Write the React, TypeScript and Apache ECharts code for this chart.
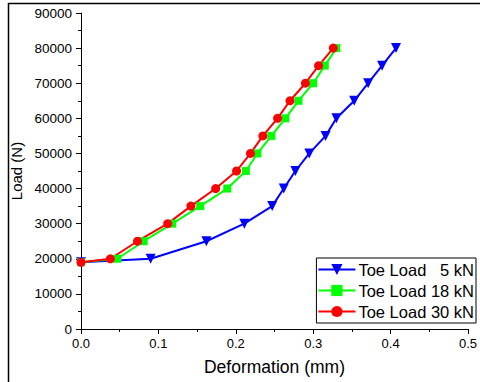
import React, { useEffect, useRef } from "react";
import * as echarts from "echarts";

const loads = [19000, 20000, 25000, 30000, 35000, 40000, 45000, 50000, 55000, 60000, 65000, 70000, 75000, 80000];
const def5kN = [0, 0.09, 0.162, 0.211, 0.247, 0.262, 0.277, 0.295, 0.316, 0.330, 0.353, 0.371, 0.389, 0.407];
const def18kN = [0, 0.047, 0.081, 0.118, 0.154, 0.189, 0.213, 0.228, 0.246, 0.264, 0.281, 0.300, 0.315, 0.330];
const def30kN = [0, 0.038, 0.073, 0.112, 0.142, 0.174, 0.201, 0.219, 0.235, 0.254, 0.270, 0.290, 0.307, 0.326];
const seriesNames = ["Toe Load\u2007 5 kN", "Toe Load 18 kN", "Toe Load 30 kN"];

const FONT = "Liberation Sans, Arial, sans-serif";

export default function App() {
  const ref = useRef<HTMLDivElement>(null);
  useEffect(() => {
    if (!ref.current) return;
    const chart = echarts.init(ref.current, null, { renderer: "svg" });
    const mk = (xs: number[]) => xs.map((x, i) => [x, loads[i]]);
    const lineSeries = (name: string, xs: number[], color: string, symbol: string, size: number, rotate = 0) => ({
      name,
      type: "line",
      data: mk(xs),
      symbol,
      symbolSize: size,
      symbolRotate: rotate,
      showAllSymbol: true,
      lineStyle: { color, width: 2 },
      itemStyle: { color },
      z: 3,
    });
    chart.setOption({
      animation: false,
      textStyle: { fontFamily: FONT },
      grid: { left: 81, top: 13, right: 6, bottom: 53 },
      graphic: [
        {
          type: "rect",
          shape: { x: 8.5, y: 3.5, width: 700, height: 700 },
          style: { fill: "none", stroke: "#000", lineWidth: 1.5 },
          silent: true,
        },
      ],
      legend: {
        orient: "vertical",
        right: 4,
        top: 258,
        itemWidth: 37,
        itemHeight: 14,
        itemGap: 4,
        padding: [3, 2, 3, 1],
        borderColor: "#000",
        borderWidth: 1,
        backgroundColor: "#fff",
        textStyle: { fontSize: 16.5, fontFamily: FONT, color: "#000", lineHeight: 16, padding: [0, 0, 0, -2] },
        data: seriesNames,
      },
      xAxis: {
        type: "value",
        min: 0,
        max: 0.5,
        interval: 0.1,
        name: "Deformation (mm)",
        nameLocation: "middle",
        nameGap: 29,
        nameTextStyle: { fontSize: 17.5, color: "#000", fontFamily: FONT },
        axisLine: { show: true, onZero: false, lineStyle: { color: "#000", width: 1 } },
        axisTick: { show: true, inside: false, length: 5, lineStyle: { color: "#000" } },
        minorTick: { show: true, splitNumber: 2, length: 3, lineStyle: { color: "#000" } },
        splitLine: { show: false },
        axisLabel: { fontSize: 13, color: "#000", margin: 8, formatter: (v: number) => v.toFixed(1), fontFamily: FONT },
      },
      yAxis: {
        type: "value",
        min: 0,
        max: 90000,
        interval: 10000,
        name: "Load (N)",
        nameLocation: "middle",
        nameGap: 48,
        nameTextStyle: { fontSize: 15, color: "#000", fontFamily: FONT },
        axisLine: { show: true, onZero: false, lineStyle: { color: "#000", width: 1 } },
        axisTick: { show: true, inside: false, length: 5, lineStyle: { color: "#000" } },
        minorTick: { show: true, splitNumber: 2, length: 3, lineStyle: { color: "#000" } },
        splitLine: { show: false },
        axisLabel: { fontSize: 13.5, color: "#000", margin: 9, fontFamily: FONT, formatter: (v: number) => String(v) },
      },
      series: [
        lineSeries(seriesNames[0], def5kN, "#0000ff", "triangle", 10, 180),
        lineSeries(seriesNames[1], def18kN, "#00ff00", "rect", 8),
        lineSeries(seriesNames[2], def30kN, "#ff0000", "circle", 9),
      ],
    });
    return () => chart.dispose();
  }, []);
  return (
    <div
      ref={ref}
      style={{ position: "absolute", left: 0, top: 0, width: 480, height: 382, background: "#fff" }}
    />
  );
}
